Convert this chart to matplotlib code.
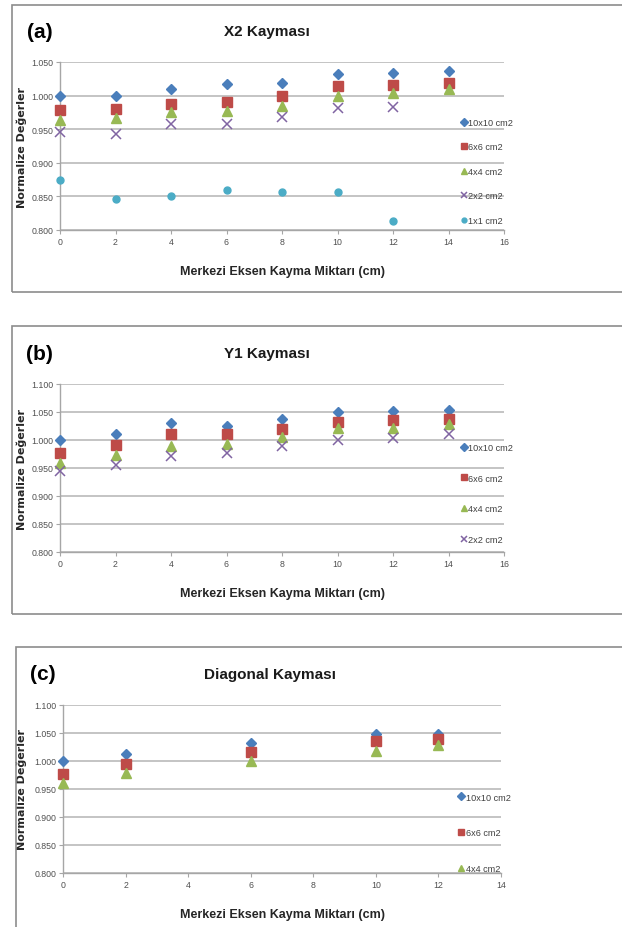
import matplotlib
matplotlib.use('Agg')
import matplotlib.pyplot as plt
from matplotlib.patches import Rectangle

plt.rcParams['font.family'] = ['Liberation Sans Narrow', 'Liberation Sans', 'DejaVu Sans']

# veri
x_ab = [0, 2, 4, 6, 8, 10, 12, 14]
x_c = [0, 2, 6, 10, 12]

a_10x10 = [1.000, 0.999, 1.010, 1.017, 1.019, 1.032, 1.033, 1.037]
a_6x6 = [0.978, 0.980, 0.988, 0.990, 0.999, 1.014, 1.016, 1.019]
a_4x4 = [0.963, 0.966, 0.975, 0.977, 0.985, 0.999, 1.004, 1.010]
a_2x2 = [0.946, 0.943, 0.958, 0.957, 0.968, 0.982, 0.983]
a_1x1 = [0.875, 0.846, 0.851, 0.860, 0.857, 0.856, 0.814]

b_10x10 = [1.000, 1.010, 1.031, 1.025, 1.038, 1.050, 1.051, 1.053]
b_6x6 = [0.976, 0.991, 1.010, 1.010, 1.020, 1.033, 1.035, 1.037]
b_4x4 = [0.959, 0.973, 0.989, 0.993, 1.006, 1.021, 1.022, 1.029]
b_2x2 = [0.944, 0.955, 0.972, 0.976, 0.989, 1.000, 1.003, 1.010]

c_10x10 = [1.000, 1.012, 1.032, 1.049, 1.049]
c_6x6 = [0.976, 0.995, 1.016, 1.036, 1.039]
c_4x4 = [0.961, 0.979, 1.000, 1.018, 1.029]

labels = ['10x10 cm2', '6x6 cm2', '4x4 cm2', '2x2 cm2', '1x1 cm2']

W, H = 622, 928
fig = plt.figure(figsize=(W / 100, H / 100), dpi=100)

styles = [
    dict(marker='D', color='#4a7ebb', markersize=5.5),
    dict(marker='s', color='#be4b48', markersize=7),
    dict(marker='^', color='#98b954', markersize=7),
    dict(marker='x', color='#8064a2', markersize=7, markeredgewidth=1.1),
    dict(marker='o', color='#4bacc6', markersize=5),
]


def frame(x0, y0, x1, y1):
    r = Rectangle((x0 / W, 1 - y1 / H), (x1 - x0) / W, (y1 - y0) / H,
                  transform=fig.transFigure, fill=False,
                  edgecolor='#8c8c8c', linewidth=1.2)
    fig.patches.append(r)


def panel(box, xs, series, ylim, yticks, xmax, letter, title, legspacing, leg_y):
    l, t, r, b = box
    ax = fig.add_axes([l / W, 1 - b / H, (r - l) / W, (b - t) / H])
    for i, ys in enumerate(series):
        ax.plot(xs[:len(ys)], ys, linestyle='none', label=labels[i],
                clip_on=False, zorder=3, **styles[i])
    ax.set_xlim(0, xmax)
    ax.set_ylim(*ylim)
    ax.set_xticks(range(0, xmax + 1, 2))
    ax.set_yticks(yticks)
    ax.set_yticklabels(['%.3f' % v for v in yticks])
    ax.grid(axis='y', color='#bfbfbf', linewidth=1.3)
    ax.set_axisbelow(True)
    for s in ['top', 'right']:
        ax.spines[s].set_visible(False)
    for s in ['left', 'bottom']:
        ax.spines[s].set_color('#a6a6a6')
        ax.spines[s].set_linewidth(1.0)
    ax.tick_params(colors='#a6a6a6', labelcolor='#505050', labelsize=6.3,
                   length=3, width=0.8, pad=2)
    ax.set_xlabel('Merkezi Eksen Kayma Miktarı (cm)', fontsize=9,
                  fontweight='bold', color='#262626', labelpad=14)
    ax.set_ylabel('Normalize Değerler', fontsize=8, fontweight='bold',
                  family=['DejaVu Sans'], color='#262626')
    ax.yaxis.set_label_coords(-(l - 27) / (r - l), 0.5)
    fig.text((l + 207) / W, 1 - (t - 31) / H, title, fontsize=11,
             fontweight='bold', ha='center', va='center', color='#1a1a1a')
    fig.text(l / W - 0.033, 1 - (t - 31) / H, letter, fontsize=15,
             fontweight='bold', ha='center', va='center', color='black')
    leg = ax.legend(loc='upper left', bbox_to_anchor=(0.895, leg_y), frameon=False,
                    fontsize=6.6, handlelength=0.6, handletextpad=0.2,
                    labelspacing=legspacing, borderaxespad=0, markerscale=0.7)
    for txt in leg.get_texts():
        txt.set_color('#404040')
    return ax


frame(12, 6, 640, 293)
panel((60, 63, 504, 231), x_ab, [a_10x10, a_6x6, a_4x4, a_2x2, a_1x1],
      (0.8, 1.05), [0.8, 0.85, 0.9, 0.95, 1.0, 1.05], 16, '(a)', 'X2 Kayması',
      1.7, 0.69)

frame(12, 327, 640, 615)
panel((60, 385, 504, 553), x_ab, [b_10x10, b_6x6, b_4x4, b_2x2],
      (0.8, 1.1), [0.8, 0.85, 0.9, 0.95, 1.0, 1.05, 1.1], 16, '(b)', 'Y1 Kayması',
      2.35, 0.67)

frame(16, 648, 640, 960)
panel((63, 706, 501, 874), x_c, [c_10x10, c_6x6, c_4x4],
      (0.8, 1.1), [0.8, 0.85, 0.9, 0.95, 1.0, 1.05, 1.1], 14, '(c)', 'Diagonal Kayması',
      2.9, 0.50)

fig.savefig('out.png', dpi=100, facecolor='white')
